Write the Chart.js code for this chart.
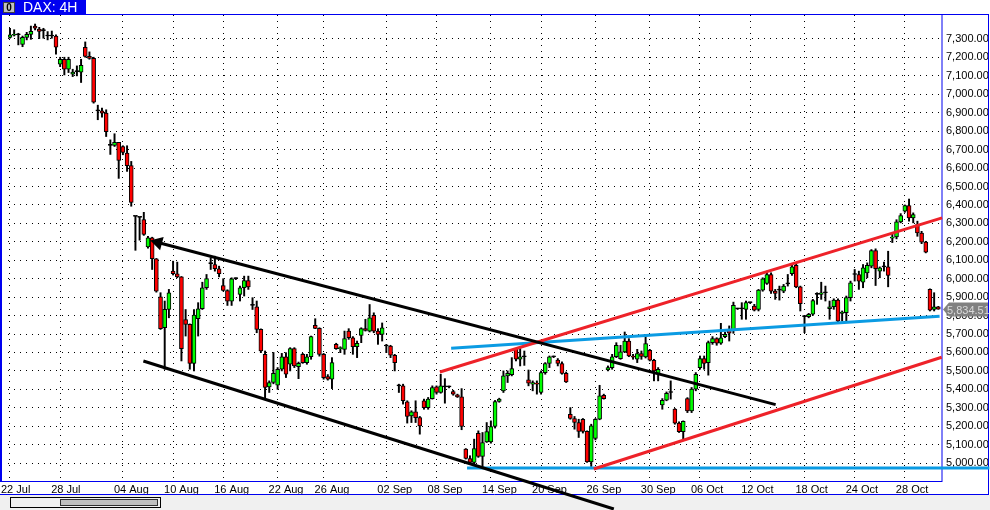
<!DOCTYPE html>
<html lang="en">
<head>
<meta charset="UTF-8">
<title>DAX: 4H</title>
<script src="https://cdn.jsdelivr.net/npm/chart.js"></script>
<style>
  html, body { margin: 0; padding: 0; background: #fff; }
  #wrap { position: relative; width: 990px; height: 510px; }
</style>
</head>
<body>
<div id="wrap"><canvas id="dax" width="990" height="510"></canvas></div>
<script>
// 4H candles, 22 Jul - 01 Nov 2011
const opens = [
  7309,7320,7323,7271,7309,7325,7370,7354,7345,7316,7316,7316,7163,7190,7136,7109,7123,7120,7255,7206,
  7195,6910,6910,6898,6723,6723,6739,6717,6681,6613,6338,6333,6320,6173,6221,6108,5902,5734,5834,6041,
  6027,6010,5779,5752,5541,5783,5837,5951,6082,6077,6054,5963,5936,5878,6000,5915,5951,5990,5855,5848,
  5725,5590,5413,5437,5422,5509,5577,5536,5621,5523,5590,5545,5577,5747,5731,5590,5469,5455,5644,5621,
  5617,5716,5680,5631,5693,5729,5716,5801,5716,5698,5635,5635,5585,5419,5419,5332,5256,5278,5247,5338,
  5301,5350,5413,5383,5413,5413,5388,5370,5359,5076,5025,5004,5162,5036,5115,5115,5199,5334,5392,5473,
  5480,5617,5563,5577,5451,5428,5433,5383,5491,5540,5577,5559,5540,5487,5265,5242,5220,5238,5172,5007,
  5134,5238,5368,5505,5518,5577,5567,5603,5662,5581,5563,5594,5576,5612,5558,5482,5316,5341,5383,5293,
  5217,5170,5350,5283,5401,5518,5567,5545,5653,5675,5650,5686,5722,5722,5837,5837,5834,5870,5852,5834,
  5938,5974,6023,5933,5938,5933,5972,6027,6072,5956,5794,5794,5807,5915,5915,5924,5837,5848,5884,5812,
  5816,5897,6023,6023,5981,6032,6068,6153,6041,6064,6064,6220,6227,6308,6366,6396,6330,6294,6248,6198,
  5942,5834,5848
];
const highs = [
  7358,7350,7331,7316,7336,7370,7381,7363,7358,7340,7343,7322,7201,7201,7201,7136,7154,7190,7284,7230,
  7201,6941,6925,6916,6753,6786,6739,6721,6721,6636,6340,6335,6360,6230,6225,6110,5924,5879,5942,6095,
  6090,6012,5833,5755,5833,5870,5981,6023,6113,6122,6068,6000,5940,6005,6005,5960,6014,6014,5897,5879,
  5728,5608,5446,5600,5518,5595,5599,5626,5626,5548,5595,5590,5689,5783,5734,5595,5480,5572,5650,5631,
  5716,5729,5686,5662,5734,5780,5860,5815,5729,5760,5644,5639,5590,5428,5428,5338,5284,5338,5253,5347,
  5356,5419,5419,5482,5458,5418,5395,5374,5404,5079,5040,5130,5175,5166,5220,5229,5340,5352,5500,5500,
  5572,5621,5626,5608,5505,5446,5446,5500,5545,5581,5581,5567,5549,5494,5301,5253,5238,5242,5175,5211,
  5242,5422,5374,5527,5590,5653,5639,5711,5675,5590,5617,5608,5698,5617,5563,5518,5350,5386,5446,5296,
  5224,5229,5355,5410,5491,5581,5581,5662,5686,5680,5758,5710,5744,5873,5840,5870,5879,5873,5861,5942,
  6005,6041,6032,5942,5960,5969,6023,6082,6082,5960,5801,5812,5888,5924,5981,5960,5879,5891,5891,5825,
  5906,5987,6050,6041,6077,6086,6158,6162,6064,6090,6149,6245,6320,6353,6400,6432,6357,6312,6257,6203,
  5945,5924,5850
];
const lows = [
  7304,7316,7268,7258,7295,7298,7349,7302,7304,7295,7304,7217,7150,7105,7118,7096,7100,7064,7201,7190,
  6952,6862,6876,6771,6674,6717,6544,6672,6582,6393,6154,6209,6235,6165,6050,5927,5725,5509,5788,6020,
  6005,5554,5689,5509,5500,5689,5833,5942,6050,6041,6010,5933,5855,5855,5995,5879,5906,5942,5833,5707,
  5599,5355,5383,5430,5400,5500,5464,5500,5518,5458,5541,5536,5563,5729,5580,5455,5450,5404,5617,5599,
  5590,5671,5590,5572,5653,5716,5711,5707,5644,5662,5599,5572,5500,5383,5320,5217,5220,5220,5157,5292,
  5292,5347,5374,5379,5325,5408,5368,5356,5181,5022,5000,4986,5031,4977,5112,5108,5190,5330,5383,5437,
  5473,5554,5527,5530,5419,5392,5374,5374,5482,5518,5572,5527,5482,5437,5238,5184,5139,5163,5004,4982,
  5126,5235,5347,5500,5509,5572,5563,5599,5577,5563,5545,5563,5570,5554,5446,5446,5292,5338,5347,5211,
  5166,5121,5274,5274,5392,5509,5509,5477,5644,5639,5644,5680,5662,5704,5833,5780,5780,5866,5825,5825,
  5932,5969,5920,5888,5884,5924,5960,6018,5951,5825,5707,5788,5801,5861,5888,5879,5780,5834,5765,5770,
  5770,5879,5987,5942,5951,6005,6059,5963,6005,6041,5956,6196,6216,6303,6360,6312,6303,6230,6190,6140,
  5825,5825,5834
];
const closes = [
  7322,7322,7323,7309,7325,7341,7358,7341,7345,7316,7316,7255,7190,7136,7190,7121,7123,7157,7206,7195,
  6957,6910,6898,6798,6723,6739,6642,6685,6613,6414,6338,6333,6240,6221,6108,5933,5729,5834,5924,6027,
  6010,5621,5752,5541,5803,5837,5951,6000,6082,6054,6027,5936,5878,5999,6000,5951,5990,5956,5855,5725,
  5608,5410,5437,5487,5509,5577,5482,5621,5527,5541,5545,5577,5686,5731,5590,5464,5455,5545,5621,5626,
  5675,5680,5631,5650,5729,5720,5788,5716,5698,5734,5635,5585,5545,5419,5338,5253,5278,5247,5202,5301,
  5347,5410,5383,5419,5413,5413,5374,5359,5199,5025,5004,5079,5036,5112,5171,5198,5334,5347,5473,5487,
  5513,5563,5577,5577,5433,5437,5428,5491,5540,5577,5577,5540,5487,5440,5242,5220,5172,5172,5007,5202,
  5238,5365,5350,5518,5577,5639,5603,5662,5581,5575,5594,5578,5648,5558,5500,5509,5341,5379,5383,5217,
  5170,5226,5283,5401,5482,5567,5541,5653,5675,5650,5680,5698,5704,5855,5837,5837,5870,5870,5830,5938,
  5999,6023,5933,5920,5938,5960,5972,6064,5956,5864,5794,5807,5882,5915,5924,5924,5848,5884,5770,5819,
  5897,5978,6023,5987,6059,6072,6153,6055,6059,6064,6018,6225,6308,6342,6396,6330,6348,6248,6198,6144,
  5830,5848,5834.51
];

// date axis: candle index of the first bar of each labelled day
const tickIndex = [0, 12, 27, 39, 51, 64, 75, 90, 102, 115, 127, 140, 153, 165, 177, 190, 202, 214];
const tickLabels = ['22 Jul', '28 Jul', '04 Aug', '10 Aug', '16 Aug', '22 Aug', '26 Aug', '02 Sep', '08 Sep',
  '14 Sep', '20 Sep', '26 Sep', '30 Sep', '06 Oct', '12 Oct', '18 Oct', '24 Oct', '28 Oct'];
const priceTicks = [7300, 7200, 7100, 7000, 6900, 6800, 6700, 6600, 6500, 6400, 6300, 6200, 6100, 6000,
  5900, 5800, 5700, 5600, 5500, 5400, 5300, 5200, 5100, 5000];

// hand drawn trend lines: [candle index, price]
const downTop = [[35.4, 6196], [183.1, 5317]];
const downBottom = [[31.9, 5554], [144.4, 4751]];
const upTop = [[102.8, 5494], [222.9, 6330]];
const upBottom = [[139.6, 4968], [222.8, 5574]];
const neckline = [[105.5, 5623], [222.3, 5797]];
const supportLow = [[109.3, 4973], [234.2, 4973]];

const GREEN = '#00ff00', RED = '#ff0000', FRAME = '#0000f0';
const FONT = '"Liberation Sans", Arial, sans-serif';

const wicks = lows.map((l, i) => ({ x: i, y: [l, highs[i]] }));
const bodies = opens.map((o, i) => ({ x: i, y: [o, closes[i]] }));
const bodyColors = opens.map((o, i) => closes[i] > o ? GREEN : (closes[i] < o ? RED : '#000'));

function trend(pts, color, extra) {
  return Object.assign({
    type: 'line',
    data: pts.map(p => ({ x: p[0], y: p[1] })),
    borderColor: color,
    borderWidth: 3,
    pointRadius: 0,
    tension: 0,
    fill: false,
    clip: false,
    order: 0
  }, extra || {});
}

const fmt = v => v.toLocaleString('en-US', { minimumFractionDigits: 2, maximumFractionDigits: 2 });

const framePlugin = {
  id: 'frame',
  // window chrome goes under the series so the hand drawn lines run across it
  beforeDatasetsDraw(chart) {
    const ctx = chart.ctx;
    const a = chart.chartArea;
    ctx.save();
    ctx.strokeStyle = FRAME;
    ctx.lineWidth = 1;
    ctx.strokeRect(0.5, 14.5, a.right - 0.5, a.bottom - 14);
    ctx.beginPath();
    ctx.moveTo(988.5, 14); ctx.lineTo(988.5, 494);
    ctx.moveTo(0, 494.5); ctx.lineTo(989, 494.5);
    ctx.moveTo(a.right, 14.5); ctx.lineTo(989, 14.5);
    ctx.stroke();
    ctx.fillStyle = FRAME;
    ctx.fillRect(0, 14, 2, a.bottom - 14);

    // scroll bar strip
    ctx.fillStyle = '#f0f0f0';
    ctx.fillRect(0, 495, 990, 15);
    ctx.strokeStyle = '#000';
    ctx.strokeRect(10.5, 497.5, 150, 10);
    ctx.fillStyle = '#c0c0c0';
    ctx.fillRect(60, 499, 98, 7);
    ctx.strokeStyle = '#303030';
    ctx.strokeRect(60.5, 499.5, 97, 6);

    // title bar
    ctx.fillStyle = FRAME;
    ctx.fillRect(0, 0, 86, 15);
    ctx.fillStyle = '#c0c0c0';
    ctx.fillRect(3, 2, 12, 11);
    ctx.strokeStyle = '#404040';
    ctx.strokeRect(3.5, 2.5, 11, 10);
    ctx.fillStyle = '#000';
    ctx.font = 'bold 10px ' + FONT;
    ctx.textAlign = 'center';
    ctx.textBaseline = 'middle';
    ctx.fillText('0', 9, 8);
    ctx.textAlign = 'left';
    ctx.fillStyle = '#fff';
    ctx.font = '14px ' + FONT;
    ctx.fillText('DAX: 4H', 23, 8);
    ctx.restore();
  },
  afterDraw(chart) {
    const ctx = chart.ctx;
    const a = chart.chartArea;
    const y = chart.scales.y;
    ctx.save();
    // last price tag
    const last = closes[closes.length - 1];
    const py = Math.round(y.getPixelForValue(last)) + 0.5;
    ctx.fillStyle = '#808080';
    ctx.beginPath();
    ctx.moveTo(a.right + 1, py);
    ctx.lineTo(a.right + 7, py - 7);
    ctx.lineTo(988, py - 7);
    ctx.lineTo(988, py + 7);
    ctx.lineTo(a.right + 7, py + 7);
    ctx.closePath();
    ctx.fill();
    ctx.fillStyle = '#d8d8d8';
    ctx.font = '11px ' + FONT;
    ctx.textAlign = 'left';
    ctx.textBaseline = 'middle';
    ctx.fillText(fmt(last), a.right + 5, py + 1);
    ctx.restore();
  }
};

new Chart(document.getElementById('dax'), {
  type: 'bar',
  data: {
    datasets: [
      trend(downTop, '#000', { pointRadius: [5, 0], pointStyle: 'triangle', pointRotation: [-75, 0], pointBackgroundColor: '#000', pointBorderColor: '#000' }),
      trend(downBottom, '#000'),
      trend(upTop, '#ee2229'),
      trend(upBottom, '#ee2229'),
      trend(neckline, '#0b9be3'),
      trend(supportLow, '#0b9be3'),
      {
        label: 'body', data: bodies, backgroundColor: bodyColors, borderColor: '#000', borderWidth: 1,
        borderSkipped: false, barThickness: 4, minBarLength: 1, grouped: false, order: 1
      },
      {
        label: 'wick', data: wicks, backgroundColor: '#000', borderWidth: 0,
        barThickness: 1.3, grouped: false, order: 2
      }
    ]
  },
  options: {
    responsive: false,
    animation: false,
    devicePixelRatio: 1,
    events: [],
    layout: { padding: { left: 2, top: 15, right: 0, bottom: 0 } },
    plugins: { legend: { display: false }, tooltip: { enabled: false } },
    scales: {
      x: {
        type: 'linear', min: -0.475, max: 222.88, offset: false,
        grid: { offset: false, color: '#000', lineWidth: 1, drawTicks: false },
        border: { display: false, dash: [1, 5] },
        ticks: {
          color: '#000', font: { family: FONT, size: 11 }, padding: 2, maxRotation: 0,
          align: 'start', labelOffset: -9,
          callback: (v, i) => tickLabels[i]
        },
        afterBuildTicks: s => { s.ticks = tickIndex.map(v => ({ value: v })); },
        afterFit: s => { s.height = 29; s.paddingLeft = 0; s.paddingRight = 0; }
      },
      y: {
        type: 'linear', position: 'right', min: 4903, max: 7430,
        grid: { color: '#000', lineWidth: 1, drawTicks: false },
        border: { display: false, dash: [1, 5] },
        ticks: { color: '#000', font: { family: FONT, size: 11 }, padding: 4, callback: v => fmt(v) },
        afterBuildTicks: s => { s.ticks = priceTicks.map(v => ({ value: v })); },
        afterFit: s => { s.width = 48; s.paddingTop = 0; s.paddingBottom = 0; }
      }
    }
  },
  plugins: [framePlugin]
});
</script>
</body>
</html>
